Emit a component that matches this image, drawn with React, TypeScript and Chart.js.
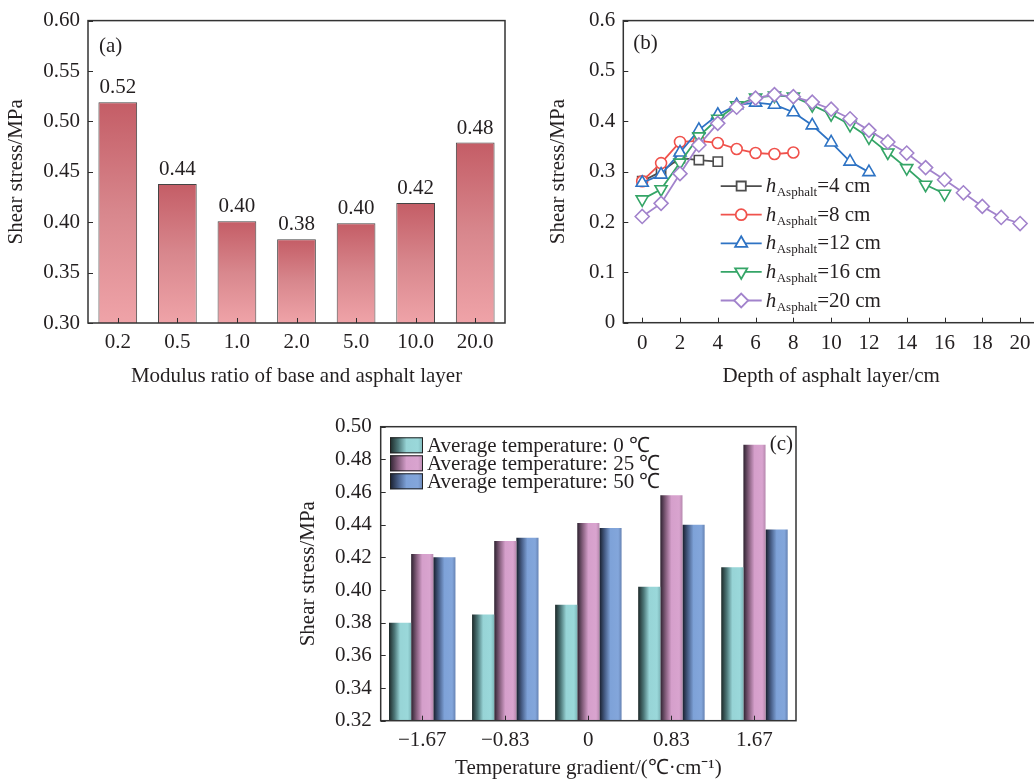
import React, { useEffect, useRef } from 'react';
import { Chart, registerables } from 'chart.js';
import { drawPoint } from 'chart.js/helpers';

Chart.register(...registerables);

const FONT_FAMILY = "'Liberation Serif', 'Times New Roman', Times, serif";
const INK = '#231f20';
const FS = 21;

// ---------------- Panel (a) data ----------------
const modulusRatios = ['0.2', '0.5', '1.0', '2.0', '5.0', '10.0', '20.0'];
const modulusShear = [0.519, 0.438, 0.401, 0.383, 0.399, 0.419, 0.479];
const aYTicks = [0.3, 0.35, 0.4, 0.45, 0.5, 0.55, 0.6];

// ---------------- Panel (b) data ----------------
const asphaltThickness = [4, 8, 12, 16, 20];
const depth4 = [0, 1, 2, 3, 4];
const shear4 = [0.281, 0.3, 0.327, 0.323, 0.32];
const depth8 = [0, 1, 2, 3, 4, 5, 6, 7, 8];
const shear8 = [0.281, 0.317, 0.359, 0.361, 0.357, 0.345, 0.337, 0.335, 0.338];
const depth12 = [0, 1, 2, 3, 4, 5, 6, 7, 8, 9, 10, 11, 12];
const shear12 = [0.278, 0.294, 0.338, 0.383, 0.413, 0.432, 0.437, 0.433, 0.418, 0.392, 0.358, 0.32, 0.299];
const depth16 = [0, 1, 2, 3, 4, 5, 6, 7, 8, 9, 10, 11, 12, 13, 14, 15, 16];
const shear16 = [0.245, 0.265, 0.318, 0.37, 0.405, 0.432, 0.447, 0.451, 0.449, 0.432, 0.414, 0.393, 0.368, 0.338, 0.307, 0.274, 0.256];
const depth20 = [0, 1, 2, 3, 4, 5, 6, 7, 8, 9, 10, 11, 12, 13, 14, 15, 16, 17, 18, 19, 20];
const shear20 = [0.211, 0.237, 0.296, 0.353, 0.396, 0.428, 0.446, 0.453, 0.449, 0.438, 0.424, 0.405, 0.382, 0.359, 0.337, 0.308, 0.284, 0.258, 0.231, 0.209, 0.197];
const bXTicks = [0, 2, 4, 6, 8, 10, 12, 14, 16, 18, 20];
const bYTicks = [0, 0.1, 0.2, 0.3, 0.4, 0.5, 0.6];

// ---------------- Panel (c) data ----------------
const tempGradients = ['\u22121.67', '\u22120.83', '0', '0.83', '1.67'];
const avgTemps = [0, 25, 50];
const shearT0 = [0.38, 0.385, 0.391, 0.402, 0.414];
const shearT25 = [0.422, 0.43, 0.441, 0.458, 0.489];
const shearT50 = [0.42, 0.432, 0.438, 0.44, 0.437];
const cYTicks = [0.32, 0.34, 0.36, 0.38, 0.4, 0.42, 0.44, 0.46, 0.48, 0.5];

// ---------------- styles ----------------
const font = (size = FS) => ({ family: FONT_FAMILY, size });
const aStops: [number, string][] = [
  [0, '#c45d66'],
  [0.5, '#d8878d'],
  [1, '#efa3a8'],
];
const cStops: [number, string][][] = [
  [[0, '#1c2828'], [0.25, '#4d7778'], [0.5, '#97d4d6'], [0.85, '#9ad8da'], [1, '#7db6b9']],
  [[0, '#2e2230'], [0.25, '#87607f'], [0.5, '#d59fcb'], [0.85, '#d9a4cf'], [1, '#b688ae']],
  [[0, '#181e2c'], [0.25, '#485f88'], [0.5, '#7ea2d8'], [0.85, '#83a6db'], [1, '#6683b4']],
];
const lineColors = ['#4d4d4d', '#f0524c', '#2e73c4', '#35a567', '#a283cc'];
const pointStyles = ['rect', 'circle', 'triangle', 'triangle', 'rectRot'];
const pointRot = [0, 0, 0, 180, 0];
const pointRad = [6.5, 5.5, 7, 7, 7];

// ---------------- plugins ----------------
const decorPlugin = {
  id: 'decor',
  afterDatasetsDraw(chart: any, _a: any, opts: any) {
    const { ctx, chartArea: a } = chart;
    ctx.save();
    const len = 5;
    ctx.strokeStyle = '#2b2b2b';
    ctx.lineWidth = 1;
    ctx.beginPath();
    const xs = chart.scales.x;
    const ys = chart.scales.y;
    xs.ticks.forEach((_: any, i: number) => {
      const px = Math.round(xs.getPixelForTick(i)) + 0.5;
      ctx.moveTo(px, a.bottom);
      ctx.lineTo(px, a.bottom - len);
    });
    ys.ticks.forEach((_: any, i: number) => {
      const py = Math.round(ys.getPixelForTick(i)) + 0.5;
      ctx.moveTo(a.left, py);
      ctx.lineTo(a.left + len, py);
    });
    ctx.stroke();
    ctx.lineWidth = 1.5;
    ctx.strokeStyle = '#333';
    ctx.strokeRect(a.left, a.top, a.right - a.left, a.bottom - a.top);
    if (opts && opts.tag) {
      ctx.font = `${FS}px ${FONT_FAMILY}`;
      ctx.fillStyle = INK;
      ctx.textBaseline = 'middle';
      ctx.textAlign = opts.align || 'left';
      const x = opts.align === 'right' ? a.right - opts.dx : a.left + opts.dx;
      ctx.fillText(opts.tag, x, a.top + opts.dy);
    }
    if (opts && opts.values) {
      ctx.font = `${FS}px ${FONT_FAMILY}`;
      ctx.fillStyle = INK;
      ctx.textAlign = 'center';
      ctx.textBaseline = 'alphabetic';
      const meta = chart.getDatasetMeta(0);
      const ds = chart.data.datasets[0].data;
      meta.data.forEach((el: any, i: number) => {
        ctx.fillText(Number(ds[i]).toFixed(2), el.x, el.y - 9);
      });
    }
    ctx.restore();
  },
};

const barGradientPlugin = {
  id: 'barGradient',
  beforeDatasetsDraw(chart: any, _a: any, opts: any) {
    if (!opts || !opts.stops) return;
    const ctx = chart.ctx;
    chart.data.datasets.forEach((_ds: any, di: number) => {
      const meta = chart.getDatasetMeta(di);
      const stops = opts.stops[di];
      meta.data.forEach((el: any) => {
        let g;
        if (opts.dir === 'v') g = ctx.createLinearGradient(0, el.y, 0, el.base);
        else g = ctx.createLinearGradient(el.x - el.width / 2, 0, el.x + el.width / 2, 0);
        stops.forEach(([o, c]: [number, string]) => g.addColorStop(o, c));
        el.options = Object.assign({}, el.options, { backgroundColor: g });
      });
    });
  },
};

const lineLegendPlugin = {
  id: 'lineLegend',
  afterDraw(chart: any, _a: any, opts: any) {
    if (!opts || !opts.show) return;
    const { ctx, chartArea: a } = chart;
    ctx.save();
    chart.data.datasets.forEach((ds: any, i: number) => {
      const y = a.top + opts.y0 + i * opts.dy;
      const x1 = a.left + opts.x0;
      const x2 = x1 + opts.len;
      ctx.strokeStyle = ds.borderColor;
      ctx.lineWidth = 1.8;
      ctx.beginPath();
      ctx.moveTo(x1, y);
      ctx.lineTo(x2, y);
      ctx.stroke();
      ctx.fillStyle = '#fff';
      drawPoint(ctx, { pointStyle: ds.pointStyle, rotation: ds.pointRotation, radius: ds.pointRadius, borderWidth: 1.6 } as any, (x1 + x2) / 2, y);
      let tx = x2 + 4;
      const base = y + 6;
      ctx.fillStyle = INK;
      ctx.textAlign = 'left';
      ctx.textBaseline = 'alphabetic';
      ctx.font = `italic ${FS}px ${FONT_FAMILY}`;
      ctx.fillText('h', tx, base);
      tx += ctx.measureText('h').width + 0.5;
      ctx.font = `13px ${FONT_FAMILY}`;
      ctx.fillText('Asphalt', tx, base + 4);
      tx += ctx.measureText('Asphalt').width;
      ctx.font = `${FS}px ${FONT_FAMILY}`;
      ctx.fillText(`=${asphaltThickness[i]} cm`, tx, base);
    });
    ctx.restore();
  },
};

const swatchLegendPlugin = {
  id: 'swatchLegend',
  afterDraw(chart: any, _a: any, opts: any) {
    if (!opts || !opts.show) return;
    const { ctx, chartArea: a } = chart;
    ctx.save();
    chart.data.datasets.forEach((ds: any, i: number) => {
      const x = a.left + opts.x0;
      const y = a.top + opts.y0 + i * opts.dy;
      const g = ctx.createLinearGradient(x, 0, x + opts.w, 0);
      cStops[i].forEach(([o, c]) => g.addColorStop(o, c));
      ctx.fillStyle = g;
      ctx.fillRect(x, y, opts.w, opts.h);
      ctx.strokeStyle = '#222';
      ctx.lineWidth = 1;
      ctx.strokeRect(x + 0.5, y + 0.5, opts.w - 1, opts.h - 1);
      ctx.fillStyle = INK;
      ctx.font = `${FS}px ${FONT_FAMILY}`;
      ctx.textAlign = 'left';
      ctx.textBaseline = 'middle';
      ctx.fillText(ds.label, x + opts.w + 4, y + opts.h / 2 + 1);
    });
    ctx.restore();
  },
};

const setTicks = (vals: number[]) => (s: any) => {
  s.ticks = vals.map((v) => ({ value: v }));
};

function baseScale(extra: any) {
  return {
    grid: { display: false, drawTicks: false },
    border: { display: false },
    ...extra,
    ticks: { color: INK, font: font(), ...(extra.ticks || {}) },
    title: { display: true, color: INK, font: font(), ...(extra.title || {}) },
  };
}

export default function App() {
  const refA = useRef<HTMLCanvasElement>(null);
  const refB = useRef<HTMLCanvasElement>(null);
  const refC = useRef<HTMLCanvasElement>(null);

  useEffect(() => {
    const charts: Chart[] = [];

    // ---------- (a) ----------
    charts.push(
      new Chart(refA.current!, {
        type: 'bar',
        data: {
          labels: modulusRatios,
          datasets: [
            {
              data: modulusShear,
              base: 0.3,
              backgroundColor: '#d8878d',
              borderColor: '#444',
              borderWidth: 1,
              barPercentage: 0.65,
              categoryPercentage: 1,
            } as any,
          ],
        },
        options: {
          animation: false,
          responsive: false,
          layout: { padding: { left: 0, top: 16, right: 15, bottom: 0 } },
          plugins: {
            legend: { display: false },
            tooltip: { enabled: false },
            decor: { tag: '(a)', dx: 11, dy: 26, values: true },
            barGradient: { dir: 'v', stops: [aStops] },
          } as any,
          scales: {
            x: baseScale({
              ticks: { padding: 7 },
              title: { text: 'Modulus ratio of base and asphalt layer', padding: { top: 0, bottom: 1 } },
              afterFit: (s: any) => { s.height = 67; },
            }),
            y: baseScale({
              min: 0.3,
              max: 0.6,
              afterBuildTicks: setTicks(aYTicks),
              ticks: { padding: 8, callback: (v: any) => Number(v).toFixed(2) },
              title: { text: 'Shear stress/MPa', padding: { top: 4, bottom: 0 } },
              afterFit: (s: any) => { s.width = 88; },
            }),
          } as any,
        },
        plugins: [barGradientPlugin, decorPlugin],
      })
    );

    // ---------- (b) ----------
    const depths = [depth4, depth8, depth12, depth16, depth20];
    const shears = [shear4, shear8, shear12, shear16, shear20];
    charts.push(
      new Chart(refB.current!, {
        type: 'line',
        data: {
          datasets: asphaltThickness.map((t, i) => ({
            label: `h=${t} cm`,
            data: depths[i].map((d, j) => ({ x: d, y: shears[i][j] })),
            borderColor: lineColors[i],
            backgroundColor: '#fff',
            pointBackgroundColor: '#fff',
            pointBorderColor: lineColors[i],
            pointBorderWidth: 1.6,
            borderWidth: 1.8,
            pointStyle: pointStyles[i],
            pointRotation: pointRot[i],
            pointRadius: pointRad[i],
            tension: 0,
            order: 5 - i,
          })) as any,
        },
        options: {
          animation: false,
          responsive: false,
          layout: { padding: { left: 0, top: 17, right: 21, bottom: 0 } },
          plugins: {
            legend: { display: false },
            tooltip: { enabled: false },
            decor: { tag: '(b)', dx: 10, dy: 23 },
            lineLegend: { show: true, x0: 97.4, len: 41, y0: 165.5, dy: 28.6 },
          } as any,
          scales: {
            x: baseScale({
              type: 'linear',
              min: -1,
              max: 21,
              afterBuildTicks: setTicks(bXTicks),
              ticks: { padding: 8, callback: (v: any) => String(v) },
              title: { text: 'Depth of asphalt layer/cm', padding: { top: 0, bottom: 1 } },
              afterFit: (s: any) => { s.height = 67.3; },
            }),
            y: baseScale({
              min: 0,
              max: 0.6,
              afterBuildTicks: setTicks(bYTicks),
              ticks: { padding: 8, callback: (v: any) => (Number(v) === 0 ? '0' : Number(v).toFixed(1)) },
              title: { text: 'Shear stress/MPa', padding: { top: 25.4, bottom: 0 } },
              afterFit: (s: any) => { s.width = 103.3; },
            }),
          } as any,
        },
        plugins: [decorPlugin, lineLegendPlugin],
      })
    );

    // ---------- (c) ----------
    const cSeries = [shearT0, shearT25, shearT50];
    charts.push(
      new Chart(refC.current!, {
        type: 'bar',
        data: {
          labels: tempGradients,
          datasets: avgTemps.map((t, i) => ({
            label: `Average temperature: ${t} \u2103`,
            data: cSeries[i],
            base: 0.32,
            backgroundColor: cStops[i][2][1],
            borderWidth: 0,
            barPercentage: 1,
            categoryPercentage: 0.8,
          })) as any,
        },
        options: {
          animation: false,
          responsive: false,
          layout: { padding: { left: 0, top: 26.7, right: 14, bottom: 0 } },
          plugins: {
            legend: { display: false },
            tooltip: { enabled: false },
            decor: { tag: '(c)', dx: 3, dy: 17.5, align: 'right' },
            barGradient: { dir: 'h', stops: cStops },
            swatchLegend: { show: true, x0: 9.3, y0: 10.6, w: 33, h: 16, dy: 18 },
          } as any,
          scales: {
            x: baseScale({
              ticks: { padding: 7 },
              title: { text: 'Temperature gradient/(\u2103\u00b7cm\u207b\u00b9)', padding: { top: 0, bottom: 2.4 } },
              afterFit: (s: any) => { s.height = 62.3; },
            }),
            y: baseScale({
              min: 0.32,
              max: 0.5,
              afterBuildTicks: setTicks(cYTicks),
              ticks: { padding: 9, callback: (v: any) => Number(v).toFixed(2) },
              title: { text: 'Shear stress/MPa', padding: { top: 5.4, bottom: 0 } },
              afterFit: (s: any) => { s.width = 90.7; },
            }),
          } as any,
        },
        plugins: [barGradientPlugin, decorPlugin, swatchLegendPlugin],
      })
    );

    return () => charts.forEach((c) => c.destroy());
  }, []);

  const abs = (left: number, top: number): React.CSSProperties => ({ position: 'absolute', left, top });

  return (
    <div style={{ position: 'fixed', left: 0, top: 0, width: 1034, height: 783, overflow: 'hidden', background: '#fff' }}>
      <div style={abs(0, 0)}>
        <canvas ref={refA} width={520} height={390} style={{ display: 'block' }} />
      </div>
      <div style={abs(520, 0)}>
        <canvas ref={refB} width={540} height={390} style={{ display: 'block' }} />
      </div>
      <div style={abs(290, 400)}>
        <canvas ref={refC} width={520} height={383} style={{ display: 'block' }} />
      </div>
    </div>
  );
}
